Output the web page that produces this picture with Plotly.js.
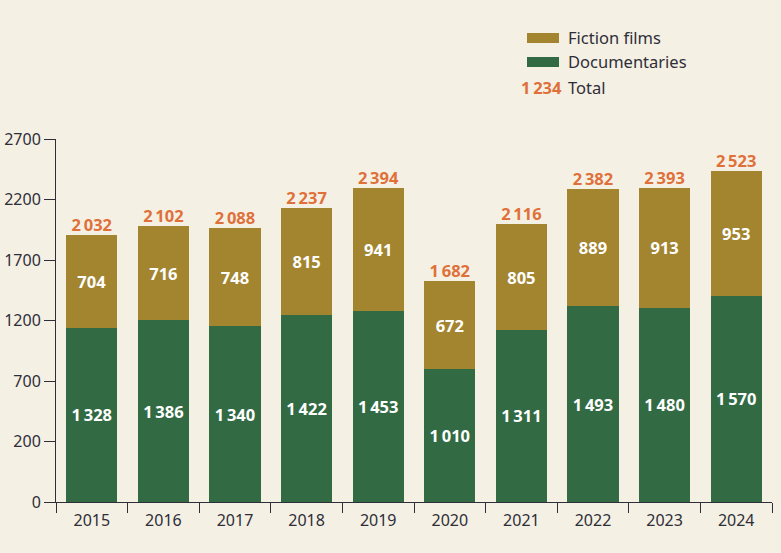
<!DOCTYPE html>
<html>
<head>
<meta charset="utf-8">
<script src="https://cdn.plot.ly/plotly-3.0.1.min.js"></script>
<style>html,body{margin:0;padding:0;background:#f5f0e4;}</style>
</head>
<body>
<div id="chart" style="width:781px;height:553px;"></div>
<script>
const years = ['2015','2016','2017','2018','2019','2020','2021','2022','2023','2024'];
const documentaries = [1328,1386,1340,1422,1453,1010,1311,1493,1480,1570];
const fictionFilms = [704,716,748,815,941,672,805,889,913,953];
const yTickLabels = ['0','200','700','1200','1700','2200','2700'];

const totals = documentaries.map((d,i)=>d+fictionFilms[i]);
const fmt = v => { const s = String(v); return s.length>3 ? s.slice(0,s.length-3)+'\u2009'+s.slice(-3) : s; };

const BG = '#f5f0e4';
const GREEN = '#326b43';
const GOLD = '#a3852f';
const ORANGE = '#e0703a';
const INK = '#2e2e38';
const FONT = 'Noto Sans, Open Sans, sans-serif';

const tickStep = 461;
const tickVals = yTickLabels.map((_,i)=>i*tickStep);

const traces = [
  {type:'bar', name:'Documentaries', x:years, y:documentaries,
   text:documentaries.map(fmt), textposition:'inside', insidetextanchor:'middle',
   textangle:0, constraintext:'none',
   textfont:{color:'#ffffff', size:16.5, family:FONT, weight:'bold'},
   marker:{color:GREEN, line:{width:0}}, hoverinfo:'skip'},
  {type:'bar', name:'Fiction films', x:years, y:fictionFilms,
   text:fictionFilms.map(fmt), textposition:'inside', insidetextanchor:'middle',
   textangle:0, constraintext:'none',
   textfont:{color:'#ffffff', size:16.5, family:FONT, weight:'bold'},
   marker:{color:GOLD, line:{width:0}}, hoverinfo:'skip'},
  {type:'scatter', mode:'text', name:'Total', x:years, y:totals,
   text:totals.map(fmt), textposition:'top center', cliponaxis:false,
   textfont:{color:ORANGE, size:16.5, family:FONT, weight:'bold'},
   hoverinfo:'skip', showlegend:false}
];

const layout = {
  width:781, height:553,
  paper_bgcolor:BG, plot_bgcolor:BG,
  margin:{l:56, r:9, t:139, b:51},
  barmode:'stack', bargap:0.285,
  showlegend:false,
  font:{family:FONT, color:INK, size:16},
  xaxis:{type:'category', showline:true, linecolor:INK, linewidth:1,
         ticks:'outside', tickson:'boundaries', ticklen:10, tickcolor:INK, tickwidth:1,
         ticklabelstandoff:4,
         showgrid:false, zeroline:false, tickfont:{size:16, color:INK}},
  yaxis:{range:[0, tickVals[tickVals.length-1]], showline:true, linecolor:INK, linewidth:1,
         tickvals:tickVals, ticktext:yTickLabels,
         ticks:'outside', ticklen:11, tickcolor:INK, tickwidth:1,
         showgrid:false, zeroline:false, tickfont:{size:16, color:INK}},
  shapes:[
    {type:'rect', xref:'paper', yref:'paper', x0:(527-56)/716, x1:(559-56)/716,
     y0:(502-43)/363, y1:(502-33)/363, fillcolor:GOLD, line:{width:0}},
    {type:'rect', xref:'paper', yref:'paper', x0:(527-56)/716, x1:(559-56)/716,
     y0:(502-67)/363, y1:(502-57)/363, fillcolor:GREEN, line:{width:0}}
  ],
  annotations:[
    {xref:'paper', yref:'paper', x:(566-56)/716, y:(502-38)/363, xanchor:'left', yanchor:'middle',
     text:'Fiction films', showarrow:false, font:{size:16.5, color:INK}},
    {xref:'paper', yref:'paper', x:(566-56)/716, y:(502-62)/363, xanchor:'left', yanchor:'middle',
     text:'Documentaries', showarrow:false, font:{size:16.5, color:INK}},
    {xref:'paper', yref:'paper', x:(566-56)/716, y:(502-87)/363, xanchor:'left', yanchor:'middle',
     text:'Total', showarrow:false, font:{size:16.5, color:INK}},
    {xref:'paper', yref:'paper', x:(564-56)/716, y:(502-87)/363, xanchor:'right', yanchor:'middle',
     text:'<b>1\u2009234</b>', showarrow:false, font:{size:16.5, color:ORANGE}}
  ]
};

Plotly.newPlot('chart', traces, layout, {displayModeBar:false, staticPlot:true});
</script>
</body>
</html>
